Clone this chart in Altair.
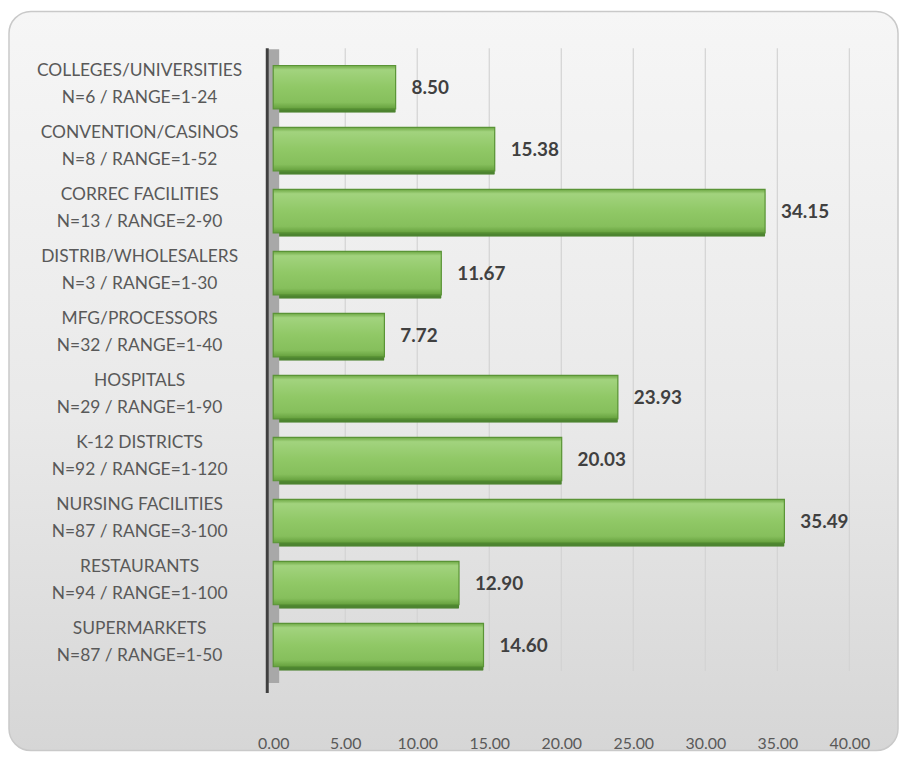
import altair as alt
import pandas as pd

categories = ["COLLEGES/UNIVERSITIES", "CONVENTION/CASINOS", "CORREC FACILITIES",
              "DISTRIB/WHOLESALERS", "MFG/PROCESSORS", "HOSPITALS", "K-12 DISTRICTS",
              "NURSING FACILITIES", "RESTAURANTS", "SUPERMARKETS"]
n_values = [6, 8, 13, 3, 32, 29, 92, 87, 94, 87]
ranges = ["1-24", "1-52", "2-90", "1-30", "1-40", "1-90", "1-120", "3-100", "1-100", "1-50"]
values = [8.50, 15.38, 34.15, 11.67, 7.72, 23.93, 20.03, 35.49, 12.90, 14.60]
x_ticks = [0, 5, 10, 15, 20, 25, 30, 35, 40]

labels = [f"{c}|N={n} / RANGE={r}" for c, n, r in zip(categories, n_values, ranges)]
df = pd.DataFrame({"label": labels, "value": values})
ticks_df = pd.DataFrame({"t": x_ticks[1:]})
order = labels

W, H = 580, 634
FONT = "Lato"

frame_df = pd.DataFrame({"k": [0]})
frame = alt.Chart(frame_df).mark_rect(
    cornerRadius=22, stroke="#c9c9c9", strokeWidth=1.5,
    fill=alt.Gradient(gradient="linear", x1=0, y1=0, x2=0, y2=1,
                      stops=[alt.GradientStop(color="#f6f6f6", offset=0),
                             alt.GradientStop(color="#e9e9e9", offset=0.55),
                             alt.GradientStop(color="#d6d6d6", offset=1)]),
    clip=False,
).encode(x=alt.value(-266), x2=alt.value(W + 49), y=alt.value(-40), y2=alt.value(H + 70))

grid = alt.Chart(ticks_df).mark_rule(color="#d3d3d3", strokeWidth=1.2).encode(
    x=alt.X("t:Q", scale=alt.Scale(domain=[0, 40], nice=False)),
    y=alt.value(-3), y2=alt.value(H - 10))

wall = alt.Chart(frame_df).mark_rect(color="#a8a8a8", clip=False).encode(
    x=alt.value(-5), x2=alt.value(6), y=alt.value(-2), y2=alt.value(H + 2))
axis_line = alt.Chart(frame_df).mark_rule(color="#3f3f3f", strokeWidth=3, clip=False).encode(
    x=alt.value(-6), y=alt.value(-3), y2=alt.value(H + 12))

y_enc = alt.Y("label:N", sort=order,
              scale=alt.Scale(paddingInner=0.3, paddingOuter=0.23),
              axis=alt.Axis(title=None, domain=False, ticks=False, tickSize=0, zindex=2,
                            labelExpr="split(datum.value, '|')",
                            labelAlign="center", labelBaseline="middle",
                            labelOffset=-16,
                            labelPadding=135, labelFont=FONT, labelFontSize=17.5,
                            labelColor="#595959", labelLineHeight=27, labelLimit=300))
x_enc = alt.X("value:Q", scale=alt.Scale(domain=[0, 40], nice=False),
              axis=alt.Axis(title=None, values=x_ticks, format=".2f", domain=False,
                            ticks=False, labelPadding=55, labelFont=FONT, labelFontSize=16,
                            labelFlush=False, labelOverlap=False,
                            labelColor="#595959", grid=False, zindex=2))

base = alt.Chart(df)

shadow = base.mark_bar(color="#4d8430", xOffset=4, yOffset=4, cornerRadius=1).encode(
    x=x_enc, y=y_enc)

bars = base.mark_bar(
    stroke="#5a9436", strokeWidth=1.2,
    fill=alt.Gradient(gradient="linear", x1=0, y1=0, x2=0, y2=1,
                      stops=[alt.GradientStop(color="#6ea844", offset=0),
                             alt.GradientStop(color="#a2d37e", offset=0.1),
                             alt.GradientStop(color="#90c866", offset=0.5),
                             alt.GradientStop(color="#86bf5c", offset=0.85),
                             alt.GradientStop(color="#65a03d", offset=1)]),
).encode(x="value:Q", y=alt.Y("label:N", sort=order))

texts = base.mark_text(align="left", baseline="middle", dx=16, dy=1, font=FONT,
                       fontSize=19, fontWeight="bold", color="#404040").encode(
    x="value:Q", y=alt.Y("label:N", sort=order),
    text=alt.Text("value:Q", format=".2f"))

chart = alt.layer(frame, grid, shadow, wall, bars, axis_line, texts).properties(
    width=W, height=H, padding=0, background="white"
).configure_view(stroke=None)

chart.save("out.html", embed_options={"renderer": "svg", "actions": False})
